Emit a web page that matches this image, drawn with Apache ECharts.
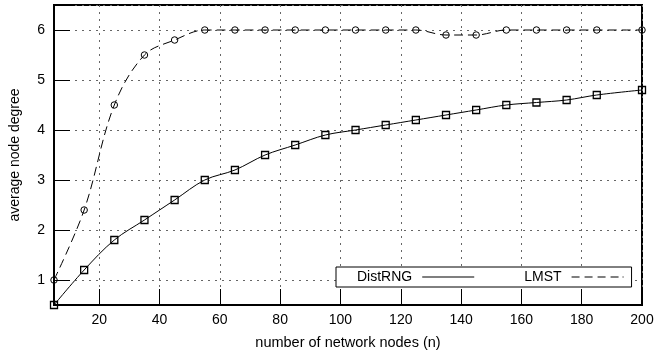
<!DOCTYPE html>
<html>
<head>
<meta charset="utf-8">
<script src="https://cdn.jsdelivr.net/npm/echarts@6/dist/echarts.min.js"></script>
<style>
html,body{margin:0;padding:0;background:#fff;}
#c{width:659px;height:357px;}
</style>
</head>
<body>
<div id="c"></div>
<script>
var nodes = [5, 15, 25, 35, 45, 55, 65, 75, 85, 95, 105, 115, 125, 135, 145, 155, 165, 175, 185, 200];
var distRNG = [0.5, 1.2, 1.8, 2.2, 2.6, 3.0, 3.2, 3.5, 3.7, 3.9, 4.0, 4.1, 4.2, 4.3, 4.4, 4.5, 4.55, 4.6, 4.7, 4.8];
var lmst = [1.0, 2.4, 4.5, 5.5, 5.8, 6.0, 6.0, 6.0, 6.0, 6.0, 6.0, 6.0, 6.0, 5.9, 5.9, 6.0, 6.0, 6.0, 6.0, 6.0];
var seriesNames = ['DistRNG', 'LMST'];
var xTitle = 'number of network nodes (n)';
var yTitle = 'average node degree';

function pairs(xs, ys) { return xs.map(function (x, i) { return [x, ys[i]]; }); }

var FONT = '"Liberation Sans", Arial, Helvetica, sans-serif';
var gridLine = { show: true, lineStyle: { color: '#666', width: 1, type: [2, 5] } };

var chart = echarts.init(document.getElementById('c'));
chart.setOption({
  animation: false,
  backgroundColor: '#fff',
  textStyle: { fontFamily: FONT, color: '#000' },
  grid: { left: 52, right: 17, top: 5, bottom: 52, show: true, borderColor: '#000', borderWidth: 2, backgroundColor: 'transparent' },
  xAxis: {
    type: 'value', min: 5, max: 200, splitNumber: 10,
    name: xTitle, nameLocation: 'middle', nameGap: 30,
    nameTextStyle: { fontSize: 14.5, color: '#000', fontFamily: FONT },
    axisLine: { show: true, onZero: false, lineStyle: { color: '#000', width: 2 } },
    axisTick: { show: true, inside: true, length: 16, lineStyle: { color: '#000', width: 1 } },
    axisLabel: { fontSize: 14, color: '#000', margin: 8, fontFamily: FONT,
      formatter: function (v) { return (v % 20 === 0) ? String(v) : ''; } },
    splitLine: gridLine
  },
  yAxis: {
    type: 'value', min: 0.5, max: 6.5, splitNumber: 6,
    name: yTitle, nameLocation: 'middle', nameGap: 32,
    nameTextStyle: { fontSize: 14, color: '#000', fontFamily: FONT },
    axisLine: { show: true, onZero: false, lineStyle: { color: '#000', width: 2 } },
    axisTick: { show: true, inside: true, length: 16, lineStyle: { color: '#000', width: 1 } },
    axisLabel: { fontSize: 14, color: '#000', margin: 9, fontFamily: FONT,
      formatter: function (v) { return (Math.abs(v - Math.round(v)) < 1e-6) ? String(Math.round(v)) : ''; } },
    splitLine: gridLine
  },
  legend: {
    left: 336, top: 267, orient: 'horizontal', align: 'right',
    padding: [3, 8, 3, 21], itemGap: 50,
    itemWidth: 52, itemHeight: 14,
    backgroundColor: '#fff', borderColor: '#000', borderWidth: 1,
    textStyle: { fontSize: 14, color: '#000', fontFamily: FONT, padding: [0, 5, 0, 0] },
    itemStyle: { color: '#000', borderWidth: 0 },
    data: [
      { name: seriesNames[0], icon: 'path://M0,0h52v1h-52z' },
      { name: seriesNames[1], icon: 'path://M0,0h8v1h-8z M13,0h8v1h-8z M26,0h8v1h-8z M39,0h8v1h-8z M51,0h1v1h-1z' }
    ]
  },
  series: [
    {
      name: seriesNames[0], type: 'line', data: pairs(nodes, distRNG),
      smooth: 0.35, clip: false,
      symbol: 'rect', symbolSize: 7,
      lineStyle: { color: '#000', width: 1 },
      itemStyle: { color: 'rgba(255,255,255,0)', borderColor: '#000', borderWidth: 1.3 },
      z: 3
    },
    {
      name: seriesNames[1], type: 'line', data: pairs(nodes, lmst),
      smooth: 0.35, clip: false,
      symbol: 'circle', symbolSize: 6.5,
      lineStyle: { color: '#000', width: 1, type: [9, 5] },
      itemStyle: { color: 'rgba(255,255,255,0)', borderColor: '#000', borderWidth: 1 },
      z: 3
    }
  ]
});
</script>
</body>
</html>
